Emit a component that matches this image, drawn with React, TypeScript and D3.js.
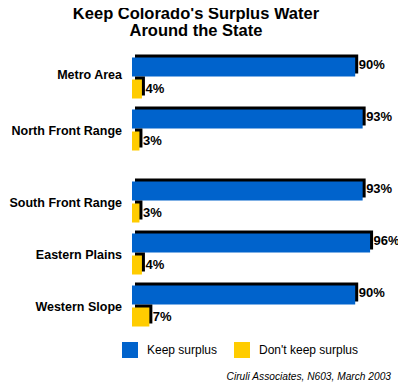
import React, { useEffect, useRef } from 'react';
import * as d3 from 'd3';

// chart values
const regions = ['Metro Area', 'North Front Range', 'South Front Range', 'Eastern Plains', 'Western Slope'];
const keepSurplus = [90, 93, 93, 96, 90];
const dontKeep = [4, 3, 3, 4, 7];
const seriesNames = ['Keep surplus', "Don't keep surplus"];
const seriesColors = ['#0063CC', '#FFCC00'];
const titleLines = ["Keep Colorado's Surplus Water", 'Around the State'];
const sourceNote = 'Ciruli Associates, N603, March 2003';

const App = () => {
  const svgRef = useRef<SVGSVGElement>(null);

  useEffect(() => {
    const svg = d3.select(svgRef.current);
    svg.selectAll('*').remove();

    const width = 406,
      height = 392;
    const font = 'Arial, "Liberation Sans", sans-serif';

    svg.attr('width', width).attr('height', height);

    svg
      .selectAll('.title')
      .data(titleLines)
      .enter()
      .append('text')
      .attr('class', 'title')
      .attr('x', 196)
      .attr('y', (d, i) => 19 + i * 16.5)
      .attr('text-anchor', 'middle')
      .attr('font-family', font)
      .attr('font-weight', 'bold')
      .attr('font-size', 16.5)
      .attr('fill', '#000')
      .text(d => d);

    const xScale = d3.scaleLinear().domain([0, 100]).range([0, 248]);
    const x0 = 132;

    // groups are evenly spaced, with an extra gap after the second one
    const yScale = d3.scaleBand().domain(regions).range([52, 312]);
    const gapAfter = 1;
    const gapSize = 20;
    const groupCenter = (d, i) => yScale(d) + yScale.bandwidth() / 2 + (i > gapAfter ? gapSize : 0);

    const barH = 19;
    const barGap = 3;
    const depth = 3;

    const chart = svg.append('g');

    const groups = chart
      .selectAll('.group')
      .data(regions)
      .enter()
      .append('g')
      .attr('class', 'group')
      .attr('transform', (d, i) => `translate(0,${groupCenter(d, i)})`);

    groups
      .append('text')
      .attr('x', 122)
      .attr('y', (d, i) => (i === 0 ? 1 : 5))
      .attr('text-anchor', 'end')
      .attr('font-family', font)
      .attr('font-weight', 'bold')
      .attr('font-size', 12.5)
      .text(d => d);

    const series = [keepSurplus, dontKeep];

    series.forEach((vals, s) => {
      const top = s === 0 ? -barH - barGap / 2 : barGap / 2;
      // black 3D shadow behind the bar
      groups
        .append('rect')
        .attr('x', x0 + depth)
        .attr('y', top - depth)
        .attr('width', (d, i) => xScale(vals[i]))
        .attr('height', barH)
        .attr('fill', '#000');
      groups
        .append('rect')
        .attr('x', x0)
        .attr('y', top)
        .attr('width', (d, i) => xScale(vals[i]))
        .attr('height', barH)
        .attr('fill', seriesColors[s]);
      groups
        .append('text')
        .attr('x', (d, i) => x0 + xScale(vals[i]) + depth + 0.5)
        .attr('y', top + barH / 2 + (s === 0 ? 1.5 : 3.5))
        .attr('font-family', font)
        .attr('font-weight', 'bold')
        .attr('font-size', 13)
        .text((d, i) => vals[i] + '%');
    });

    const legendX = [122, 234];
    const legend = svg
      .selectAll('.legend')
      .data(seriesNames)
      .enter()
      .append('g')
      .attr('class', 'legend')
      .attr('transform', (d, i) => `translate(${legendX[i]},342)`);

    legend
      .append('rect')
      .attr('width', 16)
      .attr('height', 16)
      .attr('fill', (d, i) => seriesColors[i]);

    legend
      .append('text')
      .attr('x', 25)
      .attr('y', 12)
      .attr('font-family', font)
      .attr('font-size', 12)
      .text(d => d);

    svg
      .append('text')
      .attr('x', 391)
      .attr('y', 380)
      .attr('text-anchor', 'end')
      .attr('font-family', font)
      .attr('font-style', 'italic')
      .attr('font-size', 10.2)
      .text(sourceNote);
  }, []);

  return (
    <div style={{ margin: -8, width: 406, height: 392, background: '#fff' }}>
      <svg ref={svgRef} style={{ display: 'block' }} />
    </div>
  );
};

export default App;
